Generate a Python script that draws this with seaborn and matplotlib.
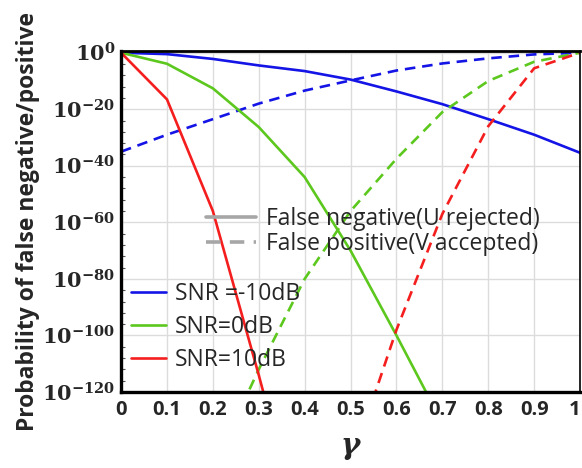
import matplotlib
matplotlib.use('Agg')
import matplotlib.pyplot as plt
from matplotlib.lines import Line2D
from matplotlib.ticker import FixedLocator, NullFormatter
import numpy as np
import pandas as pd
import seaborn as sns

# exponents (log10 of probability)
gamma_full = [0, 0.1, 0.2, 0.3, 0.4, 0.5, 0.6, 0.7, 0.8, 0.9, 1.0]

fn_m10 = [0, -0.5, -2.2, -4.5, -6.5, -9.5, -13.7, -18.2, -23.5, -29, -35.4]
fp_m10 = [-35, -29, -23.5, -18, -13.4, -9.8, -6.3, -3.8, -2, -0.6, 0]

gamma_fn_0 = [0, 0.1, 0.2, 0.3, 0.4, 0.5, 0.6, 0.7]
fn_0 = [0, -3.9, -12.6, -26.3, -44, -70, -100, -131]
gamma_fp_0 = [0.2, 0.3, 0.4, 0.5, 0.6, 0.7, 0.8, 0.9, 1.0]
fp_0 = [-147, -112, -80, -56, -37.5, -21, -10, -3.2, 0]

gamma_fn_10 = [0, 0.1, 0.2, 0.3, 0.4]
fn_10 = [0, -16.5, -56, -114, -175]
gamma_fp_10 = [0.5, 0.6, 0.7, 0.8, 0.9, 1.0]
fp_10 = [-146, -98, -57, -26, -5.5, 0]

snr_labels = ['SNR =-10dB', 'SNR=0dB', 'SNR=10dB']
type_labels = ['False negative(U rejected)', 'False positive(V accepted)']
colors = {'SNR =-10dB': '#1414E6', 'SNR=0dB': '#5CC81E', 'SNR=10dB': '#F51E1E'}

series = [
    (gamma_full, fn_m10, 'SNR =-10dB', 'FN'),
    (gamma_full, fp_m10, 'SNR =-10dB', 'FP'),
    (gamma_fn_0, fn_0, 'SNR=0dB', 'FN'),
    (gamma_fp_0, fp_0, 'SNR=0dB', 'FP'),
    (gamma_fn_10, fn_10, 'SNR=10dB', 'FN'),
    (gamma_fp_10, fp_10, 'SNR=10dB', 'FP'),
]
frames = []
for g, e, snr, kind in series:
    frames.append(pd.DataFrame({'gamma': g, 'prob': 10.0 ** np.array(e, dtype=float),
                                'snr': snr, 'kind': kind,
                                'curve': snr + kind}))
df = pd.concat(frames, ignore_index=True)

sns.set_theme(style='white')
plt.rcParams['font.family'] = ['Open Sans', 'DejaVu Sans']
plt.rcParams['mathtext.fontset'] = 'dejavuserif'

fig = plt.figure(figsize=(5.82, 4.68), dpi=100)
ax = fig.add_axes([0.208, 0.1624, 0.7887, 0.7286])

sns.lineplot(data=df, x='gamma', y='prob', hue='snr', style='kind',
             units='curve', estimator=None, palette=colors,
             dashes={'FN': '', 'FP': (4, 2.6)}, linewidth=1.9,
             legend=False, ax=ax, sort=False)

ax.set_yscale('log')
ax.set_xlim(0, 1)
ax.set_ylim(1e-120, 10 ** 0.6)

yexp = [0, -20, -40, -60, -80, -100, -120]
ax.yaxis.set_major_locator(FixedLocator([10.0 ** e for e in yexp]))
ax.set_yticklabels([r'$\mathbf{10^{%d}}$' % e for e in yexp])
ax.yaxis.set_minor_locator(FixedLocator([10.0 ** -k for k in range(4, 120, 4) if k % 20]))
ax.yaxis.set_minor_formatter(NullFormatter())
xt = [0, 0.1, 0.2, 0.3, 0.4, 0.5, 0.6, 0.7, 0.8, 0.9, 1.0]
ax.set_xticks(xt)
ax.set_xticklabels(['0', '0.1', '0.2', '0.3', '0.4', '0.5', '0.6', '0.7', '0.8', '0.9', '1'])
for lab in ax.get_yticklabels():
    lab.set_fontsize(15)
for lab in ax.get_xticklabels():
    lab.set_fontweight('bold')
    lab.set_fontsize(14.5)
ax.get_xticklabels()[-1].set_horizontalalignment('right')

ax.tick_params(axis='y', which='major', direction='in', length=6, width=1, color='black', pad=4)
ax.tick_params(axis='y', which='minor', direction='in', length=3, width=0.8, color='#555555', left=True)
ax.tick_params(axis='x', which='major', direction='in', length=0, pad=6)
ax.grid(True, which='major', color='#dcdcdc', linewidth=1)

for side, lw in [('left', 2.4), ('bottom', 2.4), ('top', 2.0), ('right', 1.2)]:
    ax.spines[side].set_color('black')
    ax.spines[side].set_linewidth(lw)

ax.set_ylabel('Probability of false negative/positive', fontsize=16.5, fontweight='bold', labelpad=2)
ax.set_xlabel('γ', fontsize=21, fontfamily='DejaVu Serif', fontstyle='italic',
              fontweight='bold', labelpad=8)

type_handles = [Line2D([], [], color='#a6a6a6', linewidth=2.6),
                Line2D([], [], color='#a6a6a6', linewidth=2.6, dashes=(4, 2.6))]
leg1 = ax.legend(type_handles, type_labels, loc='center left', bbox_to_anchor=(0.185, 0.47),
                 frameon=False, fontsize=16.5, handlelength=2.2, handletextpad=0.4,
                 labelspacing=0.05, borderpad=0, borderaxespad=0)
ax.add_artist(leg1)

snr_handles = [Line2D([], [], color=colors[s], linewidth=1.9) for s in snr_labels]
ax.legend(snr_handles, snr_labels, loc='center left', bbox_to_anchor=(0.022, 0.19),
          frameon=False, fontsize=16.5, handlelength=1.5, handletextpad=0.4,
          labelspacing=0.4, borderpad=0, borderaxespad=0)

fig.savefig('out.png', dpi=100)
